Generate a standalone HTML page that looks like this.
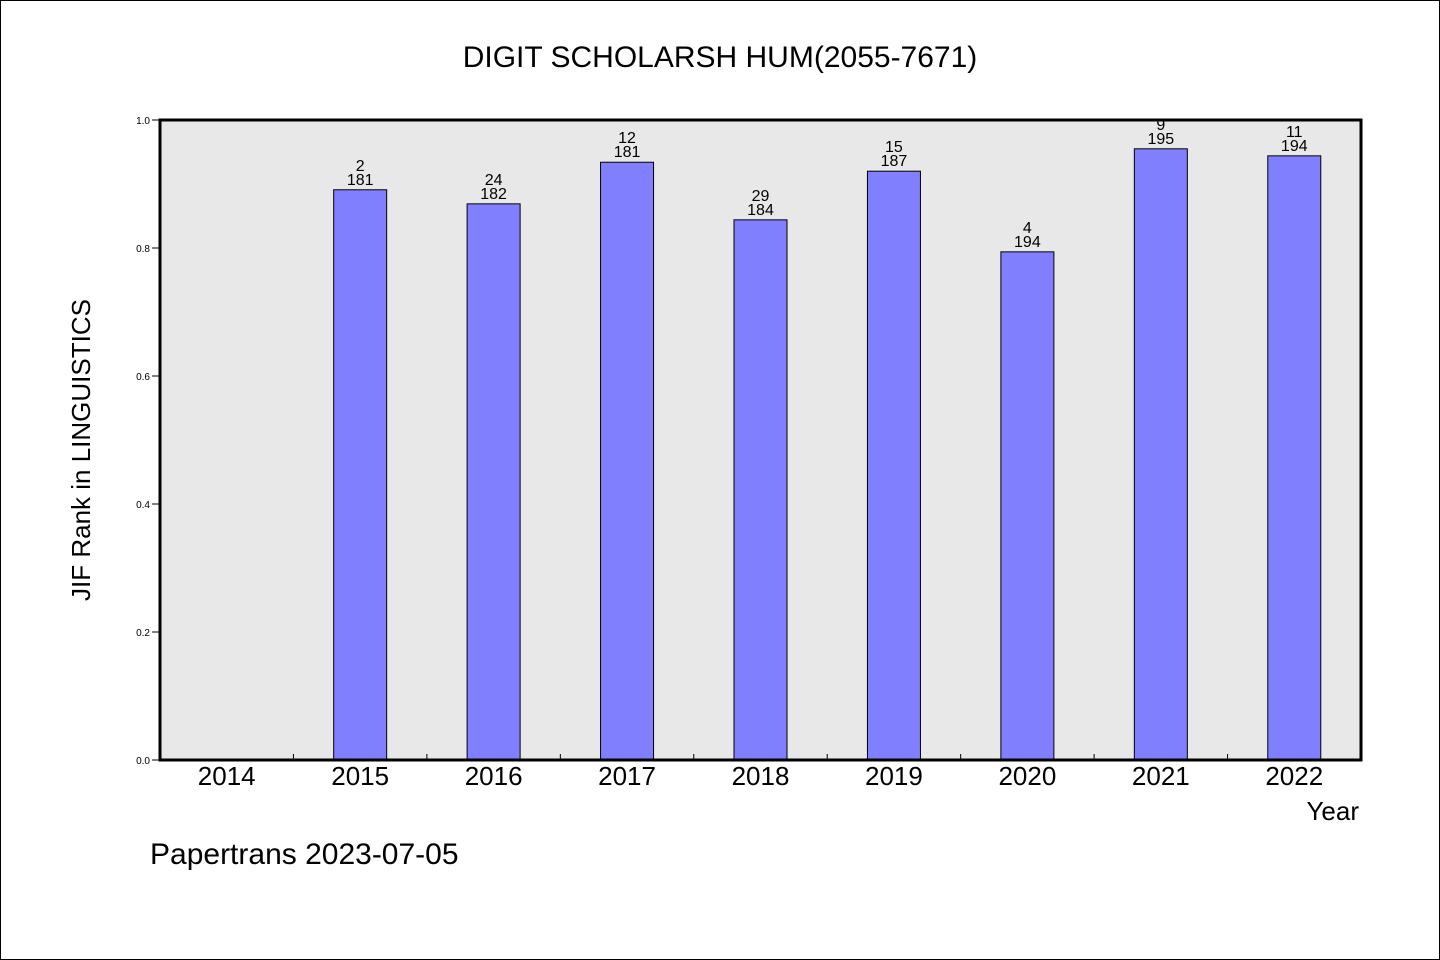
<!DOCTYPE html>
<html><head><meta charset="utf-8"><style>
body{margin:0;background:#fff}
svg{display:block;font-family:"WenQuanYi Zen Hei","Liberation Sans",sans-serif}
</style></head><body>
<svg width="1440" height="960">
<rect x="0.5" y="0.5" width="1439" height="959" fill="#fff" stroke="#000"/>
<text x="720" y="67" text-anchor="middle" font-size="30">DIGIT SCHOLARSH HUM(2055-7671)</text>
<rect x="160" y="120" width="1201" height="640" fill="#e8e8e8"/>
<g id="bars"></g>
<rect x="160" y="120" width="1201" height="640" fill="none" stroke="#000" stroke-width="3"/>
<text transform="translate(90,450) rotate(-90)" text-anchor="middle" font-size="26">JIF Rank in LINGUISTICS</text>
<text x="1359" y="820" text-anchor="end" font-size="26">Year</text>
<text x="150" y="864" font-size="30">Papertrans 2023-07-05</text>
</svg>
<script>
const years=["2014","2015","2016","2017","2018","2019","2020","2021","2022"];
const values=[null,0.891,0.869,0.934,0.844,0.920,0.794,0.955,0.944];
const ranks=["","2","24","12","29","15","4","9","11"];
const totals=["","181","182","181","184","187","194","195","194"];
const yTicks=["0.0","0.2","0.4","0.6","0.8","1.0"];
const NS="http://www.w3.org/2000/svg";
const svg=document.querySelector('svg'),g=document.getElementById('bars');
const x0=160,w=1201,y0=760,h=640,bw=w/years.length;
const ys=v=>y0-v*h;
function mk(t,a,p){const e=document.createElementNS(NS,t);for(const k in a)e.setAttribute(k,a[k]);(p||g).appendChild(e);return e;}
yTicks.forEach(t=>{const y=ys(parseFloat(t));
 const l=mk('line',{x1:152,x2:160,y1:y,y2:y,stroke:'#000'});
 
 
 const tx=mk('text',{x:150,y:y+4,'text-anchor':'end','font-size':10});tx.textContent=t;
 
 
});
years.forEach((yr,i)=>{const c=x0+bw*(i+0.5);
 if(i>0){const l=mk('line',{x1:x0+bw*i,x2:x0+bw*i,y1:y0,y2:y0-6,stroke:'#000'});
  
  }
 const tx=mk('text',{x:c,y:785,'text-anchor':'middle','font-size':26});tx.textContent=yr;
 
 
 const v=values[i];if(v==null)return;
 const top=ys(v);
 const r=mk('rect',{x:c-26.5,y:top,width:53,height:y0-top,fill:'#8080ff',stroke:'#000','stroke-width':1});
 
 
 const a=mk('text',{x:c,y:top-19,'text-anchor':'middle','font-size':16});a.textContent=ranks[i];
 
 
 const b=mk('text',{x:c,y:top-5,'text-anchor':'middle','font-size':16});b.textContent=totals[i];
 
 
});
</script>
</body></html>
